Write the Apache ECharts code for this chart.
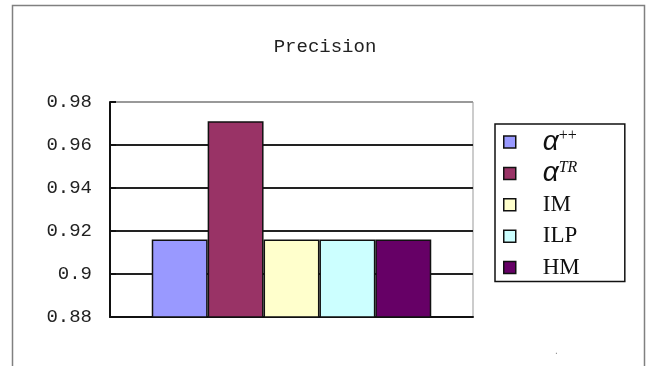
<!DOCTYPE html>
<html>
<head>
<meta charset="utf-8">
<script src="https://cdn.jsdelivr.net/npm/echarts@6/dist/echarts.min.js"></script>
<style>
  html, body { margin: 0; padding: 0; background: #fff; }
  #chart { width: 650px; height: 366px; }
</style>
</head>
<body>
<div id="chart"></div>
<script>
// Precision of each method (single category, one bar per method)
const categories = ['Precision'];
const methods = ['α++', 'αTR', 'IM', 'ILP', 'HM'];
const precision = [0.916, 0.971, 0.916, 0.916, 0.916];
const yTicks = { min: 0.88, max: 0.98, step: 0.02 };

const palette = ['#9999FF', '#993366', '#FFFFCC', '#CCFFFF', '#660066'];

// Legend labels: Greek alpha with a superscript, plain names otherwise
function legendLabel(name) {
  if (name === 'α++') return '{a|α}{sp|++}';
  if (name === 'αTR') return '{a|α}{st|TR}';
  return '{t|' + name + '}';
}

const chart = echarts.init(document.getElementById('chart'), null, { renderer: 'canvas' });

chart.setOption({
  animation: false,
  backgroundColor: '#ffffff',
  title: {
    text: 'Precision',
    left: 'center',
    top: 32,
    textStyle: { fontFamily: 'Liberation Mono', fontWeight: 'normal', fontSize: 19, color: '#222' }
  },
  graphic: [
    {
      type: 'rect',
      shape: { x: 12.5, y: 5.5, width: 632, height: 420 },
      style: { fill: 'none', stroke: '#808080', lineWidth: 1.5 },
      silent: true
    },
    {
      type: 'text',
      left: 555, top: 346,
      style: { text: '.', fill: '#888', font: '10px Liberation Sans' },
      silent: true
    }
  ],
  legend: {
    orient: 'vertical',
    left: 495,
    top: 124,
    padding: [4, 45, 0, 8],
    itemGap: 3.4,
    itemWidth: 12,
    itemHeight: 12,
    icon: 'rect',
    borderColor: '#111',
    borderWidth: 1.5,
    data: methods,
    itemStyle: { borderColor: '#111', borderWidth: 1.5 },
    formatter: legendLabel,
    textStyle: {
      padding: [0, 0, 0, 22],
      lineHeight: 28,
      rich: {
        a: { fontFamily: 'Liberation Sans', fontStyle: 'italic', fontSize: 28, color: '#111', lineHeight: 28, verticalAlign: 'middle' },
        sp: { fontFamily: 'Liberation Serif', fontSize: 16, color: '#111', lineHeight: 28, verticalAlign: 'top' },
        st: { fontFamily: 'Liberation Serif', fontStyle: 'italic', fontSize: 16, color: '#111', lineHeight: 28, verticalAlign: 'top' },
        t: { fontFamily: 'Liberation Serif', fontSize: 23, color: '#111', lineHeight: 28 }
      }
    }
  },
  grid: {
    left: 110,
    right: 177,
    top: 102,
    bottom: 49,
    show: true,
    borderColor: '#999',
    borderWidth: 1
  },
  xAxis: {
    type: 'category',
    data: categories,
    axisLine: { lineStyle: { color: '#111', width: 2 } },
    axisTick: { inside: true, length: 5, lineStyle: { color: '#111', width: 2 } },
    axisLabel: { show: false }
  },
  yAxis: {
    type: 'value',
    min: yTicks.min,
    max: yTicks.max,
    interval: yTicks.step,
    axisLine: { show: true, lineStyle: { color: '#111', width: 2 } },
    axisTick: { show: true, inside: true, length: 6, lineStyle: { color: '#111', width: 2 } },
    axisLabel: {
      margin: 18,
      fontFamily: 'Liberation Mono',
      fontSize: 19,
      color: '#222',
      formatter: v => String(+v.toFixed(2))
    },
    splitLine: {
      show: true,
      lineStyle: { color: ['#222', '#222', '#222', '#222', '#222', '#999'], width: 2 }
    }
  },
  series: methods.map((name, i) => ({
    name: name,
    type: 'bar',
    data: [precision[i]],
    barGap: '0%',
    barCategoryGap: '23%',
    itemStyle: { color: palette[i], borderColor: '#111', borderWidth: 1.5 }
  }))
});
</script>
</body>
</html>
